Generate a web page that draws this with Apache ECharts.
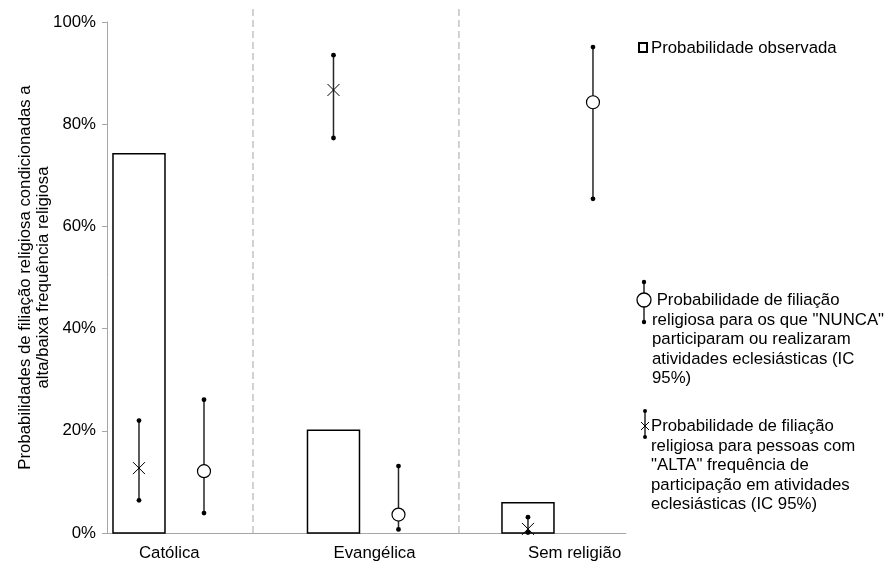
<!DOCTYPE html>
<html>
<head>
<meta charset="utf-8">
<script src="https://cdn.jsdelivr.net/npm/echarts@6/dist/echarts.min.js"></script>
<style>
html,body{margin:0;padding:0;background:#fff;}
#chart{width:888px;height:564px;}
</style>
</head>
<body>
<div id="chart"></div>
<script>
// ---- data ----
const categories = ['Católica', 'Evangélica', 'Sem religião'];
const observed   = [74.2, 20.1, 5.9];
const nuncaMean  = [12.1, 3.6, 84.3];
const nuncaLow   = [3.9, 0.7, 65.4];
const nuncaHigh  = [26.1, 13.1, 95.1];
const altaMean   = [12.7, 86.7, 0.8];
const altaLow    = [6.4, 77.3, 0.1];
const altaHigh   = [22.0, 93.5, 3.1];
const yTicks     = [0, 20, 40, 60, 80, 100];

// ---- layout (not data) ----
const FONT = "'Liberation Sans', Arial, sans-serif";
const FS = 16.8;
const L = {
  barHalf: 26,        // px
  circleOffset: 65,   // px right of bar centre
  separators: [0.586, 1.645], // axis units between groups
  xMin: -0.1645, xMax: 2.504
};

const chart = echarts.init(document.getElementById('chart'), null, {renderer: 'canvas'});

function errRender(markerType, xOffset) {
  return function (params, api) {
    const i = api.value(0);
    const pLow = api.coord([i, api.value(1)]);
    const pMean = api.coord([i, api.value(2)]);
    const pHigh = api.coord([i, api.value(3)]);
    const x = pMean[0] + xOffset;
    const children = [
      {type: 'line', shape: {x1: x, y1: pLow[1], x2: x, y2: pHigh[1]},
       style: {stroke: '#262626', lineWidth: 1.5}},
      {type: 'circle', shape: {cx: x, cy: pLow[1], r: 2.4}, style: {fill: '#000'}},
      {type: 'circle', shape: {cx: x, cy: pHigh[1], r: 2.4}, style: {fill: '#000'}}
    ];
    if (markerType === 'circle') {
      children.push({type: 'circle', shape: {cx: x, cy: pMean[1], r: 6.5},
        style: {fill: '#fff', stroke: '#000', lineWidth: 1.2}});
    } else {
      const s = 6;
      children.push({type: 'line', shape: {x1: x - s, y1: pMean[1] - s, x2: x + s, y2: pMean[1] + s},
        style: {stroke: '#000', lineWidth: 1}});
      children.push({type: 'line', shape: {x1: x - s, y1: pMean[1] + s, x2: x + s, y2: pMean[1] - s},
        style: {stroke: '#000', lineWidth: 1}});
    }
    return {type: 'group', children: children};
  };
}

const option = {
  animation: false,
  backgroundColor: '#fff',
  textStyle: {fontFamily: FONT},
  grid: {left: 107, right: 262, top: 22, bottom: 31, containLabel: false},
  xAxis: {
    type: 'value', min: L.xMin, max: L.xMax,
    splitLine: {show: false},
    axisLine: {show: true, onZero: false, lineStyle: {color: '#a6a6a6', width: 1}},
    axisTick: {show: false},
    axisLabel: {
      show: true, customValues: [0, 1, 2], align: 'left', margin: 12,
      color: '#000', fontSize: FS, fontFamily: FONT,
      formatter: v => categories[Math.round(v)]
    }
  },
  yAxis: {
    type: 'value', min: 0, max: 100, interval: 20,
    name: 'Probabilidades de filiação religiosa condicionadas a\nalta/baixa frequência religiosa',
    nameLocation: 'middle', nameGap: 55, nameRotate: 90, nameMoveOverlap: false,
    nameTextStyle: {color: '#000', fontSize: FS, fontFamily: FONT, lineHeight: 18},
    splitLine: {show: false},
    axisLine: {show: true, onZero: false, lineStyle: {color: '#a6a6a6', width: 1}},
    axisTick: {show: true, inside: false, length: 5, lineStyle: {color: '#a6a6a6'}},
    axisLabel: {color: '#000', fontSize: FS, fontFamily: FONT, margin: 11,
      formatter: v => v + '%'}
  },
  series: [
    {
      type: 'custom', name: 'sep', clip: false, silent: true, z: 1,
      data: L.separators.map(s => [s]),
      renderItem: function (params, api) {
        const xv = api.value(0);
        const b = api.coord([xv, 0]);
        const t = api.coord([xv, 100]);
        return {type: 'line', shape: {x1: b[0], y1: b[1], x2: b[0], y2: t[1] - 14},
          style: {stroke: '#c4c4c4', lineWidth: 1.5, lineDash: [7, 4]}};
      }
    },
    {
      type: 'custom', name: 'Probabilidade observada', z: 2,
      data: categories.map((c, i) => [i, observed[i]]),
      renderItem: function (params, api) {
        const i = api.value(0);
        const p0 = api.coord([i, 0]);
        const p1 = api.coord([i, api.value(1)]);
        return {type: 'rect',
          shape: {x: p0[0] - L.barHalf, y: p1[1], width: L.barHalf * 2, height: p0[1] - p1[1]},
          style: {fill: '#fff', stroke: '#000', lineWidth: 1.5}};
      }
    },
    {
      type: 'custom', name: 'ALTA', z: 3, clip: false,
      data: categories.map((c, i) => [i, altaLow[i], altaMean[i], altaHigh[i]]),
      encode: {x: 0, y: [1, 2, 3]},
      renderItem: errRender('x', 0)
    },
    {
      type: 'custom', name: 'NUNCA', z: 3, clip: false,
      data: categories.map((c, i) => [i, nuncaLow[i], nuncaMean[i], nuncaHigh[i]]),
      encode: {x: 0, y: [1, 2, 3]},
      renderItem: errRender('circle', L.circleOffset)
    }
  ],
  graphic: [
    // legend item 1
    {type: 'rect', left: 638, top: 42, shape: {width: 8, height: 9},
      style: {fill: '#fff', stroke: '#000', lineWidth: 2}},
    {type: 'text', left: 651, top: 40,
      style: {text: 'Probabilidade observada', fill: '#000', font: FS + 'px ' + FONT}},
    // legend item 2
    {type: 'group', children: [
      {type: 'line', shape: {x1: 644, y1: 282, x2: 644, y2: 322}, style: {stroke: '#262626', lineWidth: 1.5}},
      {type: 'circle', shape: {cx: 644, cy: 282, r: 2.2}, style: {fill: '#000'}},
      {type: 'circle', shape: {cx: 644, cy: 322, r: 2.2}, style: {fill: '#000'}},
      {type: 'circle', shape: {cx: 644, cy: 300, r: 7}, style: {fill: '#fff', stroke: '#000', lineWidth: 1.3}}
    ]},
    {type: 'text', left: 652, top: 291,
      style: {text: ' Probabilidade de filiação\nreligiosa para os que "NUNCA"\nparticiparam ou realizaram\natividades eclesiásticas (IC\n95%)',
        fill: '#000', font: FS + 'px ' + FONT, lineHeight: 19.5}},
    // legend item 3
    {type: 'group', children: [
      {type: 'line', shape: {x1: 645, y1: 411, x2: 645, y2: 437}, style: {stroke: '#262626', lineWidth: 1.5}},
      {type: 'circle', shape: {cx: 645, cy: 411, r: 2}, style: {fill: '#000'}},
      {type: 'circle', shape: {cx: 645, cy: 437, r: 2}, style: {fill: '#000'}},
      {type: 'line', shape: {x1: 641, y1: 422, x2: 649, y2: 430}, style: {stroke: '#000', lineWidth: 1}},
      {type: 'line', shape: {x1: 641, y1: 430, x2: 649, y2: 422}, style: {stroke: '#000', lineWidth: 1}}
    ]},
    {type: 'text', left: 651, top: 417,
      style: {text: 'Probabilidade de filiação\nreligiosa para pessoas com\n"ALTA" frequência de\nparticipação em atividades\neclesiásticas (IC 95%)',
        fill: '#000', font: FS + 'px ' + FONT, lineHeight: 19.5}}
  ]
};
chart.setOption(option);
</script>
</body>
</html>
